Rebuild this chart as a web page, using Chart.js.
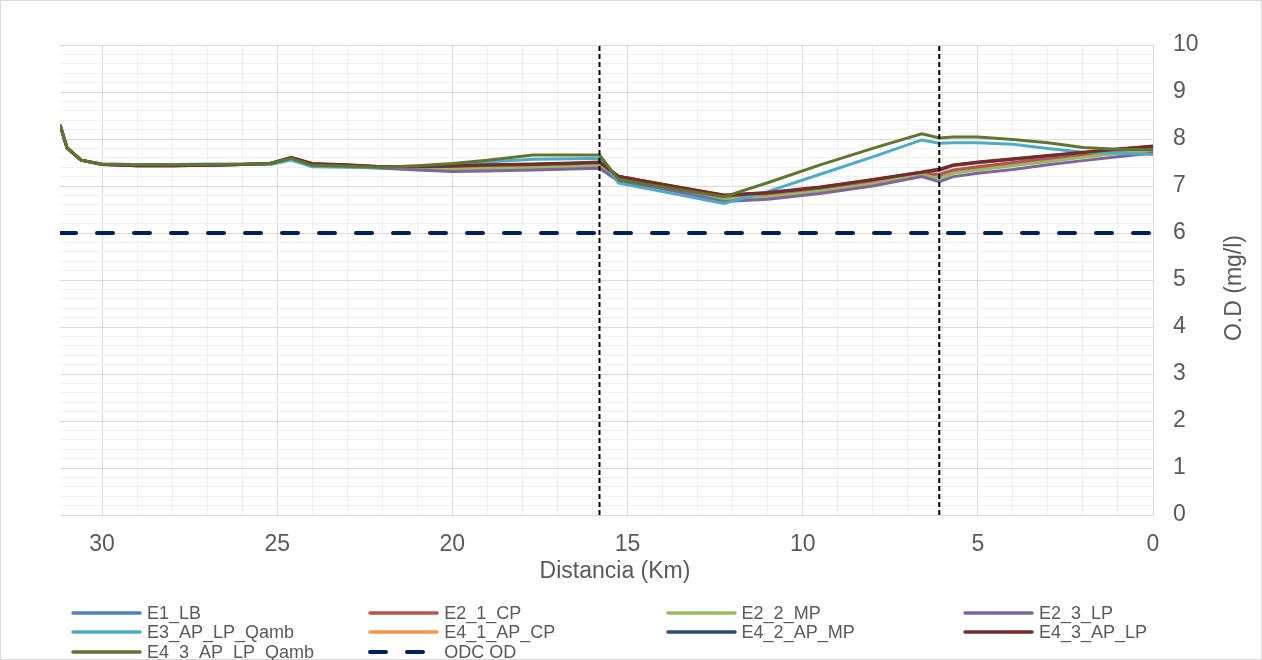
<!DOCTYPE html>
<html>
<head>
<meta charset="utf-8">
<title>O.D - Distancia</title>
<script src="https://cdn.jsdelivr.net/npm/chart.js@4.4.0/dist/chart.umd.min.js"></script>
<style>
  html, body { margin: 0; padding: 0; background: #ffffff; }
  #wrap { position: relative; width: 1262px; height: 660px; }
  #legend { position: absolute; left: 0; top: 0; width: 1262px; height: 660px; pointer-events: none;
            font-family: "Liberation Sans", Arial, sans-serif; font-size: 18px; color: #595959; }
  .legend_item { position: absolute; height: 20px; line-height: 20px; white-space: nowrap; }
  .legend_item svg { position: absolute; left: 0; top: 7px; }
  .legend_item span { position: absolute; left: 76px; top: 0; }
</style>
</head>
<body>
<div id="wrap">
  <canvas id="graph"></canvas>
  <div id="legend"></div>
</div>
<script>
"use strict";

// Distancia (Km) de cada punto de cálculo
const distances = [31.2, 31.0, 30.6, 30.0, 29.0, 28.0, 27.0, 26.0, 25.2, 24.6, 24.0, 23.0, 22.0, 21.0, 20.0, 19.0, 17.7,
  16.6, 15.8, 15.25, 14.0, 12.25, 11.0, 9.5, 8.0, 6.6, 6.1, 5.7, 5.0, 4.0, 3.0, 2.0, 1.0, 0.0];

// O.D (mg/l) por escenario
const e1_lb = [8.30, 7.81, 7.55, 7.46, 7.44, 7.44, 7.45, 7.46, 7.47, 7.58, 7.45, 7.43, 7.40, 7.38, 7.37, 7.38, 7.40,
  7.42, 7.44, 7.15, 6.98, 6.73, 6.78, 6.90, 7.06, 7.25, 7.18, 7.28, 7.36, 7.45, 7.54, 7.62, 7.71, 7.78];
const e2_1_cp = [8.30, 7.81, 7.55, 7.46, 7.44, 7.44, 7.45, 7.46, 7.47, 7.59, 7.46, 7.44, 7.40, 7.40, 7.40, 7.41, 7.43,
  7.45, 7.46, 7.17, 7.00, 6.76, 6.81, 6.94, 7.10, 7.27, 7.25, 7.34, 7.41, 7.50, 7.59, 7.67, 7.75, 7.82];
const e2_2_mp = [8.30, 7.81, 7.55, 7.46, 7.44, 7.44, 7.45, 7.46, 7.47, 7.58, 7.45, 7.43, 7.39, 7.37, 7.36, 7.37, 7.39,
  7.41, 7.43, 7.14, 6.97, 6.72, 6.77, 6.89, 7.05, 7.24, 7.16, 7.27, 7.34, 7.43, 7.52, 7.61, 7.69, 7.76];
const e2_3_lp = [8.30, 7.81, 7.55, 7.46, 7.44, 7.44, 7.45, 7.46, 7.47, 7.58, 7.44, 7.41, 7.38, 7.34, 7.31, 7.32, 7.34,
  7.36, 7.38, 7.10, 6.94, 6.67, 6.72, 6.84, 7.00, 7.20, 7.09, 7.20, 7.27, 7.35, 7.45, 7.54, 7.62, 7.70];
const e3_ap_lp_qamb = [8.30, 7.81, 7.55, 7.47, 7.46, 7.46, 7.47, 7.46, 7.46, 7.55, 7.41, 7.40, 7.39, 7.42, 7.46, 7.51, 7.57,
  7.58, 7.59, 7.06, 6.88, 6.63, 6.88, 7.25, 7.62, 7.98, 7.91, 7.92, 7.92, 7.89, 7.80, 7.72, 7.70, 7.67];
const e4_1_ap_cp = [8.30, 7.81, 7.55, 7.46, 7.43, 7.43, 7.44, 7.46, 7.48, 7.60, 7.47, 7.44, 7.41, 7.41, 7.42, 7.44, 7.46,
  7.48, 7.50, 7.20, 7.03, 6.80, 6.85, 6.97, 7.13, 7.29, 7.33, 7.43, 7.49, 7.57, 7.64, 7.71, 7.78, 7.84];
const e4_2_ap_mp = [8.30, 7.81, 7.55, 7.46, 7.43, 7.43, 7.44, 7.46, 7.48, 7.60, 7.47, 7.44, 7.41, 7.41, 7.42, 7.44, 7.46,
  7.48, 7.50, 7.20, 7.03, 6.80, 6.85, 6.97, 7.13, 7.29, 7.34, 7.44, 7.50, 7.57, 7.64, 7.71, 7.78, 7.84];
const e4_3_ap_lp = [8.30, 7.81, 7.55, 7.46, 7.43, 7.43, 7.44, 7.46, 7.48, 7.61, 7.48, 7.45, 7.41, 7.42, 7.43, 7.45, 7.47,
  7.49, 7.51, 7.21, 7.04, 6.81, 6.86, 6.98, 7.14, 7.30, 7.36, 7.45, 7.51, 7.58, 7.65, 7.72, 7.79, 7.85];
const e4_3_ap_lp_qamb = [8.30, 7.81, 7.55, 7.47, 7.45, 7.45, 7.46, 7.47, 7.48, 7.59, 7.44, 7.42, 7.40, 7.43, 7.48, 7.55, 7.66,
  7.66, 7.66, 7.13, 6.98, 6.77, 7.07, 7.45, 7.80, 8.11, 8.02, 8.04, 8.04, 7.99, 7.92, 7.82, 7.78, 7.77];

// Objetivo de calidad (ODC)
const odc_distances = [31.2, 0];
const odc_values = [6, 6];

// Límites de tramo (líneas verticales)
const section_limits = [15.8, 6.1];

const series_names = ["E1_LB", "E2_1_CP", "E2_2_MP", "E2_3_LP", "E3_AP_LP_Qamb", "E4_1_AP_CP", "E4_2_AP_MP",
  "E4_3_AP_LP", "E4_3_AP_LP_Qamb"];
const series_values = [e1_lb, e2_1_cp, e2_2_mp, e2_3_lp, e3_ap_lp_qamb, e4_1_ap_cp, e4_2_ap_mp, e4_3_ap_lp,
  e4_3_ap_lp_qamb];
const series_colors = ["#4F81BD", "#C0504D", "#9BBB59", "#8064A2", "#4BACC6", "#F79646", "#2C4D75", "#772C2A",
  "#5F7530"];
const odc_name = "ODC OD";
const odc_color = "#002060";

const x_title = "Distancia (Km)";
const y_title = "O.D (mg/l)";

const text_color = "#595959";
const grid_major = "#d9d9d9";
const grid_minor = "#f0f0f0";
const font_family = '"Liberation Sans", Arial, sans-serif';

Chart.defaults.font.family = font_family;
Chart.defaults.color = text_color;

function is_whole(value, step) {
  const q = value / step;
  return Math.abs(q - Math.round(q)) < 1e-6;
}

function create_datasets() {
  const datasets = series_values.map((values, i) => {
    return {
      label: series_names[i],
      data: distances.map((d, k) => ({ x: d, y: values[k] })),
      borderColor: series_colors[i],
      backgroundColor: series_colors[i],
      borderWidth: 3,
      pointRadius: 0,
      tension: 0,
      fill: false,
      // Excel pone la última serie arriba
      order: 20 - i,
    };
  });

  datasets.push({
    label: odc_name,
    data: odc_distances.map((d, k) => ({ x: d, y: odc_values[k] })),
    borderColor: odc_color,
    borderWidth: 4,
    borderDash: [16, 21],
    borderCapStyle: "round",
    pointRadius: 0,
    fill: false,
    order: 2,
  });

  section_limits.forEach((km) => {
    datasets.push({
      label: "",
      data: [{ x: km, y: 0 }, { x: km, y: 10 }],
      borderColor: "#000000",
      borderWidth: 2,
      borderDash: [5, 3],
      pointRadius: 0,
      fill: false,
      order: 1,
    });
  });
  return datasets;
}

// marco exterior y títulos de ejes (el del eje derecho se lee de abajo hacia arriba)
const frame_plugin = {
  id: "frame",
  afterDraw(chart) {
    const ctx = chart.ctx;
    ctx.save();
    ctx.strokeStyle = grid_major;
    ctx.lineWidth = 1;
    ctx.strokeRect(0.5, 0.5, chart.width - 1, chart.height - 1);

    ctx.font = `23px ${font_family}`;
    ctx.fillStyle = text_color;
    ctx.textAlign = "center";
    ctx.textBaseline = "middle";
    ctx.fillText(x_title, 615, 572);

    ctx.translate(1235, 288);
    ctx.rotate(-Math.PI / 2);
    ctx.fillText(y_title, 0, 0);
    ctx.restore();
  },
};

const config = {
  type: "line",
  data: { datasets: create_datasets() },
  options: {
    responsive: true,
    maintainAspectRatio: false,
    animation: false,
    layout: { padding: { left: 60, top: 45, right: 0, bottom: 65 } },
    plugins: {
      legend: { display: false },
      tooltip: { enabled: false },
    },
    scales: {
      x: {
        type: "linear",
        reverse: true,
        min: 0,
        max: 31.2,
        ticks: {
          stepSize: 1,
          autoSkip: false,
          maxRotation: 0,
          padding: 16,
          font: { size: 23 },
          color: text_color,
          callback: (value) => (is_whole(value, 5) ? value : ""),
        },
        grid: {
          drawTicks: false,
          color: (ctx) => {
            if (!ctx.tick || !is_whole(ctx.tick.value, 1)) return "rgba(0,0,0,0)";
            return is_whole(ctx.tick.value, 5) ? grid_major : grid_minor;
          },
        },
        border: { color: grid_major },
        afterFit(scale) {
          scale.height = 80;
        },
      },
      y: {
        position: "right",
        min: 0,
        max: 10,
        ticks: {
          stepSize: 0.2,
          autoSkip: false,
          padding: 20,
          font: { size: 23 },
          color: text_color,
          callback: (value) => (is_whole(value, 1) ? Math.round(value) : ""),
        },
        grid: {
          drawTicks: false,
          color: (ctx) => (ctx.tick && is_whole(ctx.tick.value, 1) ? grid_major : grid_minor),
        },
        border: { color: grid_major },
        afterFit(scale) {
          scale.width = 109;
        },
      },
    },
  },
  plugins: [frame_plugin],
};

new Chart(document.getElementById("graph"), config);

//   Leyenda en cuatro columnas, como en Excel
function create_legend() {
  const names = series_names.concat([odc_name]);
  const colors = series_colors.concat([odc_color]);
  let html = "";
  names.forEach((name, i) => {
    const col = i % 4;
    const row = Math.floor(i / 4);
    const left = 71 + col * 297.3;
    const top = 602.5 + row * 19.5;
    let line = `<line x1="2" y1="3" x2="69" y2="3" stroke="${colors[i]}" stroke-width="3.5" stroke-linecap="round"/>`;
    if (name === odc_name) {
      line = `<line x1="2" y1="3" x2="59" y2="3" stroke="${colors[i]}" stroke-width="4" stroke-linecap="round" stroke-dasharray="16 21"/>`;
    }
    html += `<div class="legend_item" style="left:${left}px;top:${top}px">
      <svg width="72" height="6">${line}</svg><span>${name}</span></div>`;
  });
  document.querySelector("#legend").insertAdjacentHTML("afterbegin", html);
}

create_legend();
</script>
</body>
</html>
